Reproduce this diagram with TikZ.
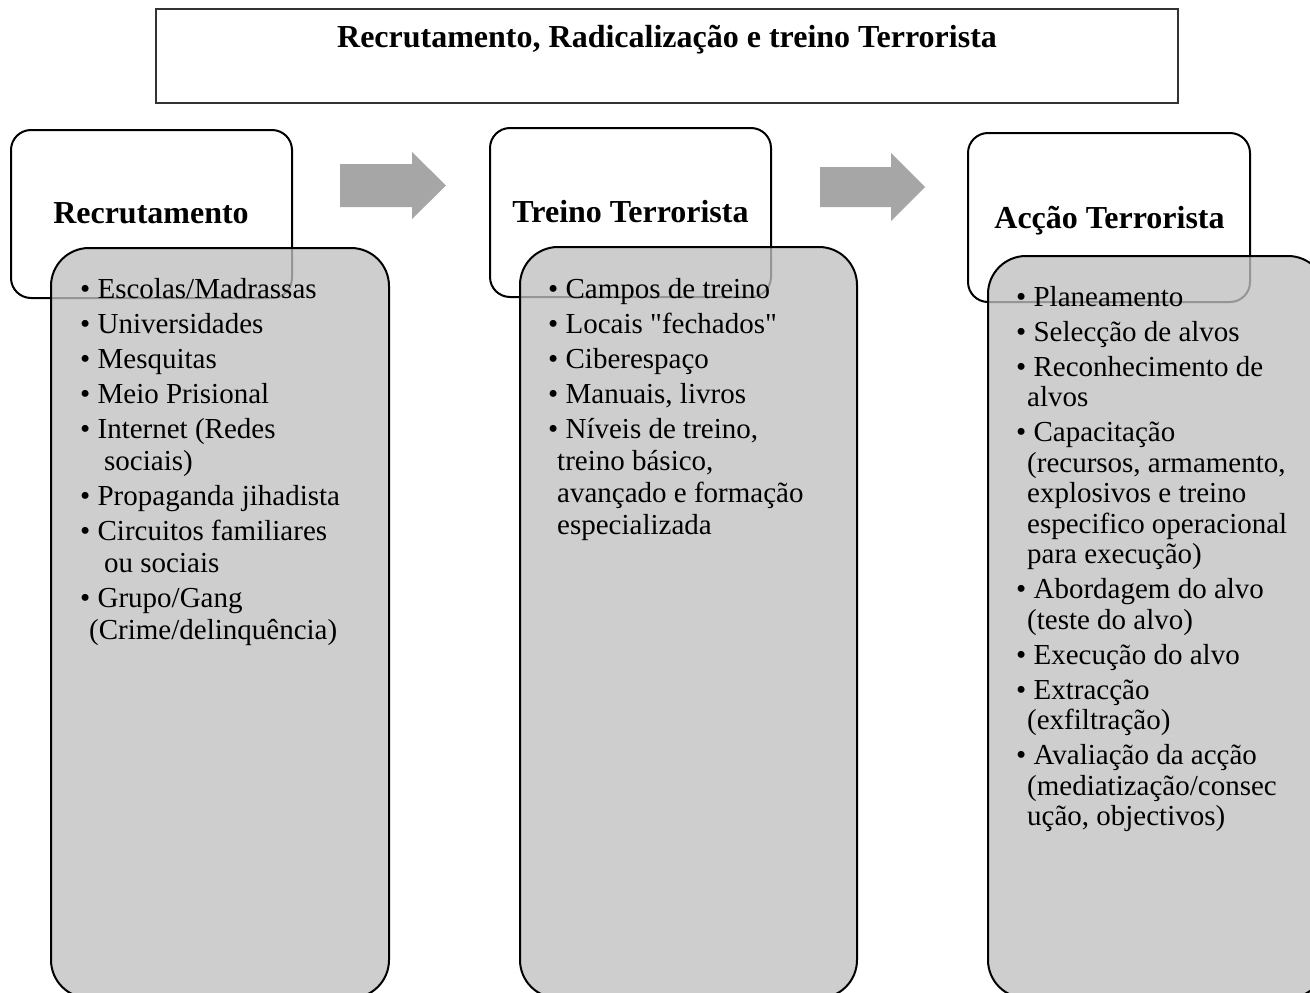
\documentclass[tikz,border=0pt]{standalone}
\usepackage{fontspec}
\setmainfont{Liberation Serif}[Ligatures=TeXOff]
\begin{document}
\begin{tikzpicture}[x=1pt,y=-1pt,
  titlebox/.style={draw=black!80, line width=1.5pt, fill=white},
  headbox/.style={draw=black, line width=2pt, fill=white, rounded corners=20pt, inner sep=0pt},
  graybox/.style={draw=black, line width=2pt, fill={rgb,255:red,192;green,192;blue,192}, fill opacity=0.78, rounded corners=38pt, inner sep=0pt},
  headtext/.style={font=\fontsize{32}{36}\selectfont\bfseries, inner sep=0pt, anchor=base},
  listtext/.style={font=\fontsize{29}{32}\selectfont, align=left, inner sep=0pt, anchor=north west},
  listtextc/.style={font=\fontsize{29}{30.5}\selectfont, align=left, inner sep=0pt, anchor=north west},
  blockarrow/.style={fill={rgb,255:red,166;green,166;blue,166}}
]
\useasboundingbox (0,0) rectangle (1310,993);
\clip (0,0) rectangle (1310,993);

% title
\node[titlebox, minimum width=1022pt, minimum height=94pt, inner sep=0pt] (tb) at (667,56) {};
\node[headtext] (title) at (667,47) {Recrutamento, Radicalização e treino Terrorista};

% header boxes
\node[headbox, minimum width=281pt, minimum height=168pt] (h1) at (151.5,214) {};
\node[headbox, minimum width=281pt, minimum height=169pt] (h2) at (630.5,212.5) {};
\node[headbox, minimum width=282pt, minimum height=169pt] (h3) at (1109,217.5) {};

\node[headtext] (h1t) at (151,223) {Recrutamento};
\node[headtext] (h2t) at (630.5,222) {Treino Terrorista};
\node[headtext] (h3t) at (1109.5,228) {Acção Terrorista};

% arrows
\fill[blockarrow] (340,164) -- (412,164) -- (412,152) -- (446,185.5) -- (412,219) -- (412,207) -- (340,207) -- cycle;
\fill[blockarrow] (820,167) -- (891,167) -- (891,153) -- (925,187) -- (891,221) -- (891,207) -- (820,207) -- cycle;

% gray boxes
\node[graybox, minimum width=338pt, minimum height=750pt] (g1) at (220,623) {};
\node[graybox, minimum width=337pt, minimum height=751pt] (g2) at (688.5,622.5) {};
\node[graybox, minimum width=338pt, minimum height=742pt] (g3) at (1157,627) {};

% lists
\node[listtext] (l1) at (80,278) {%
• Escolas/Madrassas\\[3pt]
• Universidades\\[3pt]
• Mesquitas\\[3pt]
• Meio Prisional\\[3pt]
• Internet (Redes\\
\hspace*{24pt}sociais)\\[3pt]
• Propaganda jihadista\\[3pt]
• Circuitos familiares\\
\hspace*{24pt}ou sociais\\[3pt]
• Grupo/Gang\\
\hspace*{9pt}(Crime/delinquência)};

\node[listtext] (l2) at (548,278) {%
• Campos de treino\\[3pt]
• Locais "fechados"\\[3pt]
• Ciberespaço\\[3pt]
• Manuais, livros\\[3pt]
• Níveis de treino,\\
\hspace*{9pt}treino básico,\\
\hspace*{9pt}avançado e formação\\
\hspace*{9pt}especializada};

\node[listtextc] (l3) at (1016,286) {%
• Planeamento\\[4.5pt]
• Selecção de alvos\\[4.5pt]
• Reconhecimento de\\
\hspace*{11pt}alvos\\[4.5pt]
• Capacitação\\
\hspace*{11pt}(recursos, armamento,\\
\hspace*{11pt}explosivos e treino\\
\hspace*{11pt}especifico operacional\\
\hspace*{11pt}para execução)\\[4.5pt]
• Abordagem do alvo\\
\hspace*{11pt}(teste do alvo)\\[4.5pt]
• Execução do alvo\\[4.5pt]
• Extracção\\
\hspace*{11pt}(exfiltração)\\[4.5pt]
• Avaliação da acção\\
\hspace*{11pt}(mediatização/consec\\
\hspace*{11pt}ução, objectivos)};
\end{tikzpicture}
\end{document}
